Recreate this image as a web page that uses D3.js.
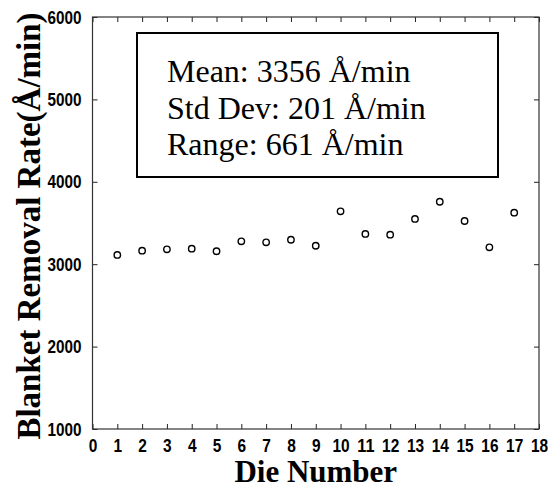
<!DOCTYPE html>
<html>
<head>
<meta charset="utf-8">
<script src="https://cdn.jsdelivr.net/npm/d3@7"></script>
<style>
  html, body { margin: 0; padding: 0; background: #fff; }
  svg { display: block; }
</style>
</head>
<body>
<svg id="chart" width="548" height="489"></svg>
<script>
// ---- data ----
const dieNumbers = [1, 2, 3, 4, 5, 6, 7, 8, 9, 10, 11, 12, 13, 14, 15, 16, 17];
const removalRates = [3112, 3164, 3181, 3188, 3157, 3278, 3266, 3297, 3224, 3642, 3367, 3358, 3549, 3758, 3524, 3205, 3625];
const xTicks = d3.range(0, 19);
const yTicks = [1000, 2000, 3000, 4000, 5000, 6000];
const statLines = ["Mean: 3356 Å/min", "Std Dev: 201 Å/min", "Range: 661 Å/min"];
const xTitle = "Die Number";
const yTitle = "Blanket Removal Rate(Å/min)";

// ---- layout ----
const svg = d3.select("#chart");
const L = 92.5, R = 539, T = 17, B = 429;

const x = d3.scaleLinear().domain([0, 18]).range([L, R]);
const y = d3.scaleLinear().domain([1000, 6000]).range([B, T]);

const tickFont = "'Liberation Sans', Arial, sans-serif";
const serif = "'Liberation Serif', 'Times New Roman', serif";

function narrow(sel, perChar) {
  sel.selectAll("text").each(function() {
    const t = d3.select(this);
    const n = t.text().length;
    t.attr("textLength", n * perChar).attr("lengthAdjust", "spacingAndGlyphs");
  });
}

// bottom axis
const gx = svg.append("g").attr("transform", `translate(0,${B})`)
  .call(d3.axisBottom(x).tickValues(xTicks).tickFormat(d3.format("d")).tickSizeInner(-5).tickSizeOuter(0).tickPadding(10));
gx.select(".domain").remove();
gx.selectAll("line").attr("stroke", "#222");
gx.selectAll("text").attr("font-family", tickFont).attr("font-weight", "bold").attr("font-size", 19).attr("fill", "#000");
narrow(gx, 8.6);

// top axis ticks
const gxt = svg.append("g").attr("transform", `translate(0,${T})`)
  .call(d3.axisTop(x).tickValues(xTicks).tickFormat("").tickSizeInner(-5).tickSizeOuter(0));
gxt.select(".domain").remove();
gxt.selectAll("line").attr("stroke", "#222");

// left axis
const gy = svg.append("g").attr("transform", `translate(${L},0)`)
  .call(d3.axisLeft(y).tickValues(yTicks).tickFormat(d3.format("d")).tickSizeInner(-5).tickSizeOuter(0).tickPadding(11));
gy.select(".domain").remove();
gy.selectAll("line").attr("stroke", "#222");
gy.selectAll("text").attr("font-family", tickFont).attr("font-weight", "bold").attr("font-size", 19).attr("fill", "#000");
narrow(gy, 8.5);

// right axis ticks
const gyr = svg.append("g").attr("transform", `translate(${R},0)`)
  .call(d3.axisRight(y).tickValues(yTicks).tickFormat("").tickSizeInner(-5).tickSizeOuter(0));
gyr.select(".domain").remove();
gyr.selectAll("line").attr("stroke", "#222");

// frame
svg.append("rect")
  .attr("x", L).attr("y", T).attr("width", R - L).attr("height", B - T)
  .attr("fill", "none").attr("stroke", "#333").attr("stroke-width", 1.2);

// data points
svg.append("g").selectAll("circle")
  .data(dieNumbers.map((d, i) => ({ die: d, v: removalRates[i] })))
  .join("circle")
  .attr("cx", d => x(d.die))
  .attr("cy", d => y(d.v))
  .attr("r", 3.2)
  .attr("fill", "none")
  .attr("stroke", "#000")
  .attr("stroke-width", 1.4);

// stats box
svg.append("rect")
  .attr("x", 137).attr("y", 33).attr("width", 361).attr("height", 144)
  .attr("fill", "#fff").attr("stroke", "#000").attr("stroke-width", 2);

svg.append("g").selectAll("text")
  .data(statLines)
  .join("text")
  .attr("x", 167)
  .attr("y", (d, i) => 82 + i * 36.5)
  .attr("font-family", serif)
  .attr("font-size", 32)
  .attr("fill", "#000")
  .text(d => d);

// axis titles
svg.append("text")
  .attr("x", (L + R) / 2).attr("y", 482)
  .attr("text-anchor", "middle")
  .attr("font-family", serif).attr("font-weight", "bold").attr("font-size", 31)
  .attr("fill", "#000")
  .text(xTitle);

svg.append("text")
  .attr("transform", "translate(40,226) rotate(-90)")
  .attr("text-anchor", "middle")
  .attr("font-family", serif).attr("font-weight", "bold").attr("font-size", 33)
  .attr("fill", "#000")
  .text(yTitle);
</script>
</body>
</html>
